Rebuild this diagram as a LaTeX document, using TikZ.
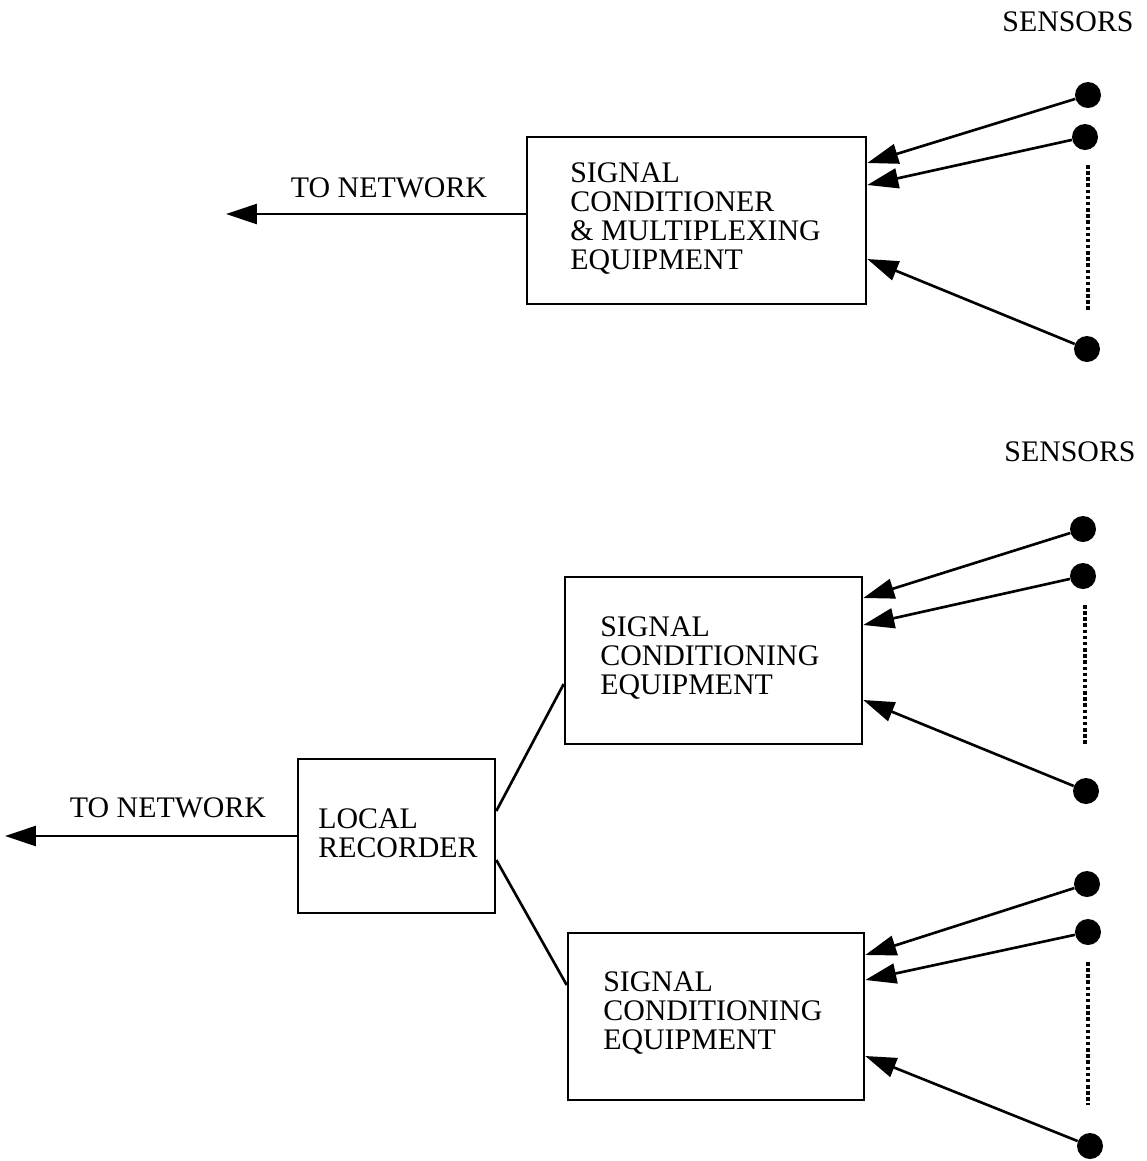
\documentclass[tikz,border=0pt]{standalone}
\usepackage{fontspec}
\setmainfont{Liberation Serif}
\usepackage{tikz}
\usetikzlibrary{arrows.meta,positioning,calc}
\tikzstyle{arrow} = [line width=1.5pt,-{Triangle[length=0.62cm,width=0.4cm]}]
\tikzstyle{equipbox} = [rectangle, draw, line width=1.5pt, minimum height=3.34cm]
\tikzstyle{sensor} = [circle, fill, inner sep=0pt, minimum size=0.52cm]
\tikzstyle{label} = [align=left, inner sep=0pt, font=\fontsize{17}{16.5}\selectfont]
\tikzstyle{dots} = [line width=1.8pt, dash pattern=on 2pt off 1.5pt]

\begin{document}
\begin{tikzpicture}[x=0.02cm, y=-0.02cm]
    \useasboundingbox (0,0) rectangle (1147,1161);

    % Upper station
    \node[equipbox, minimum width=6.78cm] (cond) at (696.5,220.5) {};
    \node[label, anchor=west] (condtxt) at (570,219) {SIGNAL\\CONDITIONER\\\& MULTIPLEXING\\EQUIPMENT};
    \node[label] (sens1) at (1068,22) {SENSORS};
    \node[label] (net1txt) at (389,188) {TO NETWORK};
    \coordinate (net1) at (226,214);

    \node[sensor] (s1a) at (1088,95) {};
    \node[sensor] (s1b) at (1085,137) {};
    \node[sensor] (s1c) at (1087,349) {};
    \draw[dots] (1088,165) -- (1088,310);

    \draw[arrow] (s1a) -- (cond.east |- 0,163);
    \draw[arrow] (s1b) -- (cond.east |- 0,185);
    \draw[arrow] (s1c) -- (cond.east |- 0,259);
    \draw[arrow] (cond.west |- net1) -- (net1);

    % Lower station
    \node[equipbox, minimum width=3.94cm, minimum height=3.08cm] (rec) at (396.5,836) {};
    \node[label, anchor=west] (rectxt) at (318,833) {LOCAL\\RECORDER};
    \node[label] (net2txt) at (168,808) {TO NETWORK};
    \coordinate (net2) at (5,836);
    \draw[arrow] (rec.west |- net2) -- (net2);

    \node[equipbox, minimum width=5.94cm] (scea) at (713.5,660.5) {};
    \node[label, anchor=west] (sceatxt) at (600,658) {SIGNAL\\CONDITIONING\\EQUIPMENT};
    \node[equipbox, minimum width=5.92cm] (sceb) at (716,1016.5) {};
    \node[label, anchor=west] (scebtxt) at (603,1013) {SIGNAL\\CONDITIONING\\EQUIPMENT};
    \node[label] (sens2) at (1070,452) {SENSORS};

    \draw[line width=1.5pt] (rec.east |- 0,811) -- (scea.west |- 0,684);
    \draw[line width=1.5pt] (rec.east |- 0,860) -- (sceb.west |- 0,985);

    \node[sensor] (s2a) at (1083,529) {};
    \node[sensor] (s2b) at (1083,576) {};
    \node[sensor] (s2c) at (1086,791) {};
    \draw[dots] (1085,605) -- (1085,745);
    \draw[arrow] (s2a) -- (scea.east |- 0,598);
    \draw[arrow] (s2b) -- (scea.east |- 0,625);
    \draw[arrow] (s2c) -- (scea.east |- 0,700);

    \node[sensor] (s3a) at (1087,884) {};
    \node[sensor] (s3b) at (1088,932) {};
    \node[sensor] (s3c) at (1090,1146) {};
    \draw[dots] (1088,962) -- (1088,1105);
    \draw[arrow] (s3a) -- (sceb.east |- 0,955);
    \draw[arrow] (s3b) -- (sceb.east |- 0,980);
    \draw[arrow] (s3c) -- (sceb.east |- 0,1056);
\end{tikzpicture}
\end{document}
